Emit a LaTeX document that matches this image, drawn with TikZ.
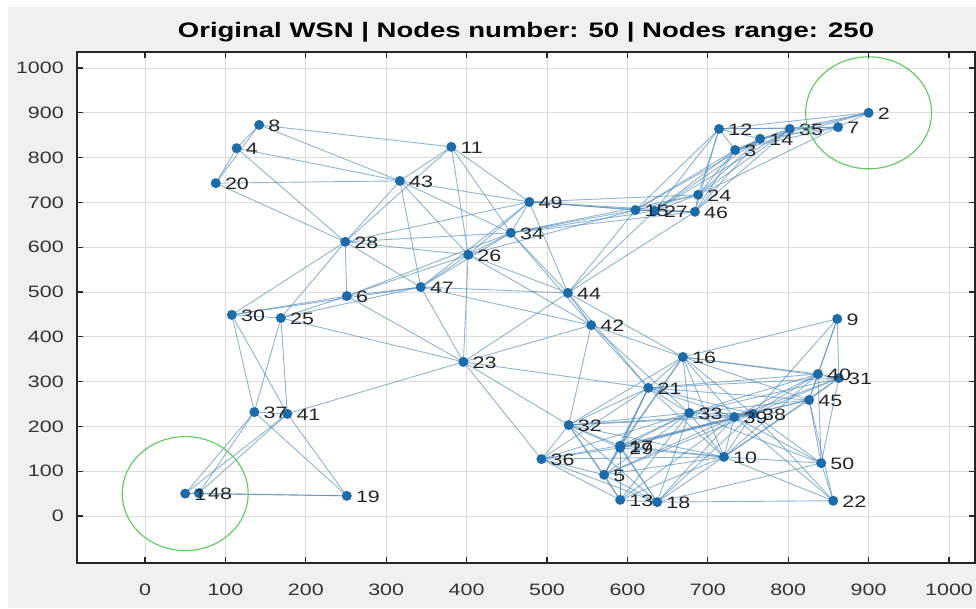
\documentclass[tikz,border=0pt]{standalone}
\usepackage{fontspec}
\setmainfont{Liberation Sans}
\definecolor{figbg}{HTML}{F0F0F0}
\definecolor{axisgray}{HTML}{262626}
\definecolor{tickgray}{HTML}{333333}
\definecolor{gridgray}{HTML}{DCDCDC}
\definecolor{dotblue}{HTML}{1D6BA8}
\definecolor{edgeblue}{HTML}{4A86B8}
\definecolor{rangegreen}{RGB}{95,200,95}
\begin{document}
\begin{tikzpicture}[x=1pt,y=1pt,
  axisline/.style={draw=axisgray,line width=1.1pt},
  gridline/.style={draw=gridgray,line width=0.8pt},
  edge/.style={draw=edgeblue,line width=0.9pt,opacity=0.62},
  dot/.style={circle,fill=dotblue,inner sep=0pt,minimum size=10pt},
  nodelbl/.style={font=\fontsize{16.5}{18}\selectfont,text=axisgray,inner sep=0pt,xscale=1.3,anchor=west},
  ticklbl/.style={font=\fontsize{16.5}{18}\selectfont,text=tickgray,inner sep=0pt,xscale=1.3},
  titlelbl/.style={font=\fontsize{21}{24}\selectfont\bfseries,text=black,inner sep=0pt,xscale=1.31},
  rangering/.style={draw=rangegreen,line width=1.1pt}]
\useasboundingbox (0,0) rectangle (976,608);
% figure background and axes area
\fill[figbg] (0,0) rectangle (976,608);
\fill[white] (0,601) rectangle (976,608);
\fill[white] (0,0) rectangle (8,608);
\fill[white] (77,45) rectangle (975,556);
\node[titlelbl] (title) at (526,576) {Original WSN | Nodes number: 50 | Nodes range: 250};
% data coordinates: x in [-84.6,1032.3], y in [-104.9,1035.7]
\def\xmn{-84.6}\def\xmx{1032.3}\def\ymn{-104.9}\def\ymx{1035.7}
\def\pts{50/50/1, 900/900/2, 734/817/3, 114/821/4, 571/92/5, 251/491/6, 862/868/7, 142/873/8, 861/440/9, 720/132/10, 381/824/11, 714/864/12, 591/36/13, 765/842/14, 610/683/15, 669/355/16, 591/157/17, 637/31/18, 251/45/19, 88/743/20, 626/286/21, 856/34/22, 396/344/23, 688/717/24, 169/442/25, 402/583/26, 634/681/27, 249/612/28, 591/152/29, 108/449/30, 863/308/31, 527/203/32, 677/230/33, 455/632/34, 802/864/35, 493/127/36, 136/232/37, 756/228/38, 733/221/39, 837/317/40, 177/228/41, 555/426/42, 317/748/43, 526/498/44, 826/259/45, 684/679/46, 343/511/47, 67/51/48, 478/701/49, 841/118/50}
\begin{scope}[shift={(145,92)},x=0.804pt,y=0.448pt]
  % grid
  \foreach \v in {0,100,...,1000} {
    \draw[gridline] (\v,\ymn) -- (\v,\ymx);
    \draw[gridline] (\xmn,\v) -- (\xmx,\v);
  }
  % sensor positions
  \foreach \x/\y/\k in \pts { \coordinate (n\k) at (\x,\y); }
  % links between sensors within range 250
  \foreach \xa/\ya/\ka in \pts {
    \foreach \xb/\yb/\kb in \pts {
      \ifnum\ka<\kb\relax
        \pgfmathsetmacro\dd{veclen(\xa-\xb,\ya-\yb)}
        \ifdim\dd pt<250pt\relax
          \draw[edge] (n\ka) -- (n\kb);
        \fi
      \fi
    }
  }
  % sensors and their numbers
  \foreach \x/\y/\k in \pts { \node[dot] (d\k) at (n\k) {}; }
  \foreach \x/\y/\k in \pts { \node[nodelbl] (t\k) at ([xshift=9pt,yshift=-1pt]n\k) {\k}; }
  % range rings around nodes 1 and 2
  \draw[rangering] (n1) ellipse [x radius=63pt,y radius=57pt];
  \draw[rangering] (n2) ellipse [x radius=63pt,y radius=56pt];
  % ticks and tick labels
  \foreach \v in {0,100,...,1000} {
    \draw[axisline] (\v,\ymn) -- ++(0pt,6pt);
    \draw[axisline] (\v,\ymx) -- ++(0pt,-6pt);
    \draw[axisline] (\xmn,\v) -- ++(6pt,0pt);
    \draw[axisline] (\xmx,\v) -- ++(-6pt,0pt);
    \node[ticklbl] (xl\v) at ([yshift=-27pt]\v,\ymn) {\v};
    \node[ticklbl,anchor=east] (yl\v) at ([xshift=-13pt]\xmn,\v) {\v};
  }
\end{scope}
\draw[axisline] (77,45) rectangle (975,556);
\end{tikzpicture}
\end{document}
